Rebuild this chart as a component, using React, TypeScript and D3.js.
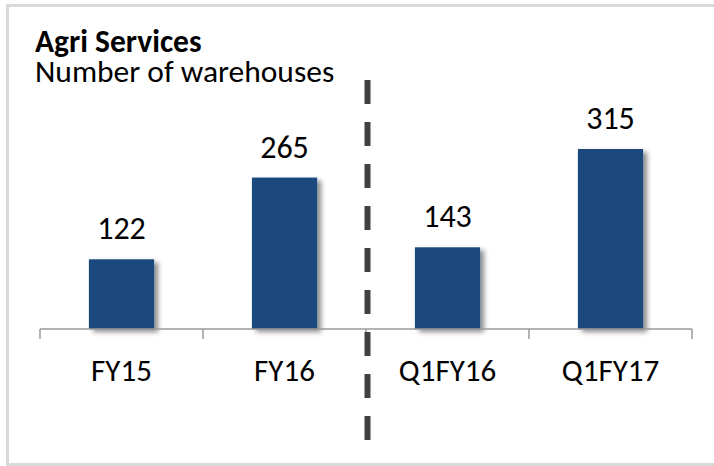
import React from "react";
import * as d3 from "d3";

const categories = ["FY15", "FY16", "Q1FY16", "Q1FY17"];
const values = [122, 265, 143, 315];
const title = "Agri Services";
const subtitle = "Number of warehouses";

const W = 714;
const H = 466;
const FONT = "Carlito, Calibri, Lato, sans-serif";

export default function App() {
  const x = d3
    .scaleBand<string>()
    .domain(categories)
    .range([40, 692])
    .paddingInner(0.6)
    .paddingOuter(0.3);
  const y = d3.scaleLinear().domain([0, 350]).range([329, 129]);
  const step = x.step();
  const axisStart = 40;
  const ticks = d3.range(categories.length + 1).map((i) => axisStart + i * step);
  const dashX = axisStart + 2 * step + 1.5;

  return (
    <svg
      width={W}
      height={H}
      style={{ position: "absolute", left: 0, top: 0, background: "#fff" }}
      fontFamily={FONT}
    >
      <defs>
        <filter id="shadow" x="-30%" y="-30%" width="160%" height="160%">
          <feDropShadow dx="4" dy="3" stdDeviation="2.5" floodColor="#000" floodOpacity="0.45" />
        </filter>
      </defs>
      <rect x={7.5} y={5.5} width={W + 10} height={H - 7} fill="#fff" stroke="#d9d9d9" strokeWidth={3} />
      <text x={35} y={52} fontSize={31.5} fontWeight="bold" fill="#000">
        {title}
      </text>
      <text x={35} y={82} fontSize={31.5} fill="#000">
        {subtitle}
      </text>
      {categories.map((c, i) => (
        <g key={c}>
          <rect
            x={x(c)}
            y={y(values[i])}
            width={x.bandwidth()}
            height={y(0) - y(values[i])}
            fill="#1f497d"
            filter="url(#shadow)"
          />
          <text
            x={(x(c) as number) + x.bandwidth() / 2}
            y={y(values[i]) - 20}
            textAnchor="middle"
            fontSize={32}
            fill="#000"
          >
            {values[i]}
          </text>
          <text
            x={(x(c) as number) + x.bandwidth() / 2}
            y={381}
            textAnchor="middle"
            fontSize={31}
            fill="#000"
          >
            {c}
          </text>
        </g>
      ))}
      <line x1={axisStart} x2={axisStart + categories.length * step} y1={y(0)} y2={y(0)} stroke="#9a9a9a" strokeWidth={1.5} />
      {ticks.map((t, i) => (
        <line key={i} x1={t} x2={t} y1={y(0)} y2={y(0) + 10} stroke="#9a9a9a" strokeWidth={1.5} />
      ))}
      <line
        x1={dashX}
        x2={dashX}
        y1={80}
        y2={440}
        stroke="#404040"
        strokeWidth={6}
        strokeDasharray="24 18"
      />
    </svg>
  );
}
